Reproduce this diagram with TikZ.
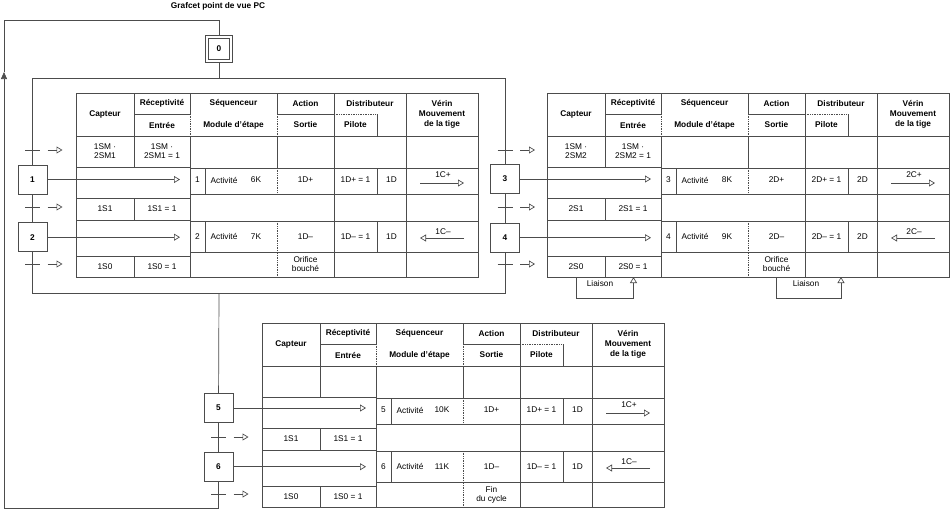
\documentclass[tikz,border=0pt]{standalone}
\usepackage{fontspec}
\setmainfont{Liberation Sans}
\usetikzlibrary{arrows.meta,positioning}

% grid of one table, local coordinates (origin = top left corner)
\newcommand{\tabgrid}{%
  \draw[grid] (0,0) rectangle (402,184);
  \draw[grid] (0,43) -- (402,43);
  \draw[grid] (58,0) -- (58,43) (58,21) -- (114,21);
  \draw[grid] (114,0) -- (114,21) (114,43) -- (114,184);
  \draw[dot] (114,21) -- (114,43);
  \draw[grid] (201,0) -- (201,21) -- (258,21) (201,43) -- (201,75);
  \draw[dot] (201,21) -- (201,43) (201,75) -- (201,101) (201,128) -- (201,184);
  \draw[dot] (258,21) -- (301,21);
  \draw[grid] (301,21) -- (301,43);
  \draw[grid] (258,0) -- (258,184) (330,0) -- (330,184);
  \foreach \y in {74,105,127,163} \draw[grid] (0,\y) -- (114,\y);
  \foreach \a/\b in {43/74,105/127,163/184} \draw[grid] (58,\a) -- (58,\b);
  \foreach \y in {75,101,128,159} \draw[grid] (114,\y) -- (402,\y);
  \foreach \a/\b in {75/101,128/159} \draw[grid] (129,\a) -- (129,\b) (301,\a) -- (301,\b);
}
\newcommand{\tabhead}{%
  \node[hd] (capteur) at (29,21.5) {Capteur};
  \node[hd] (recept) at (86,10.5) {Réceptivité};
  \node[hd] (entree) at (86,32) {Entrée};
  \node[hd] (seq) at (157.5,10.5) {Séquenceur};
  \node[hd] (module) at (157.5,32) {Module d’étape};
  \node[hd] (action) at (229.5,10.5) {Action};
  \node[hd] (sortie) at (229.5,32) {Sortie};
  \node[hd] (distrib) at (294,10.5) {Distributeur};
  \node[hd] (pilote) at (279.5,32) {Pilote};
  \node[hd] (verin) at (366,21.5) {Vérin\\Mouvement\\de la tige};
}
% #1 y, #2 step, #3 K, #4 sortie, #5 pilote, #6 distributeur
\newcommand{\steprow}[6]{%
  \node[txt] (num#2) at (121.5,#1) {#2};
  \node[txt] (act#2) at (148,#1) {Activité};
  \node[txt] (k#2) at (180,#1) {#3};
  \node[txt] (sort#2) at (229.5,#1) {#4};
  \node[txt] (pil#2) at (279.5,#1) {#5};
  \node[txt] (dist#2) at (315.5,#1) {#6};
}
% #1 name, #2 y, #3 capteur, #4 receptivite
\newcommand{\transcell}[4]{%
  \node[txt] (cap#1) at (29,#2) {#3};
  \node[txt] (rec#1) at (86,#2) {#4};
}
% #1 name, #2 y label, #3 y line, #4 label, #5 direction
\newcommand{\verin}[5]{%
  \node[txt] (#1) at (367,#2) {#4};
  \coordinate (#1-a) at ({366-22*#5},#3);
  \coordinate (#1-b) at ({366+22*#5},#3);
  \draw[oarr] (#1-a) -- (#1-b);
}

\begin{document}
\begin{tikzpicture}[x=1pt, y=-1pt,
  grid/.style={draw=black!70, line width=0.7pt},
  dot/.style={draw=black!70, line width=0.7pt, densely dotted},
  txt/.style={font=\fontsize{8.3}{9}\selectfont, align=center, inner sep=1pt},
  hd/.style={txt, font=\fontsize{8.3}{10}\selectfont\bfseries},
  stepbox/.style={draw=black!70, line width=0.7pt, minimum size=29pt, inner sep=0pt, font=\fontsize{8.3}{9}\selectfont\bfseries, fill=white},
  initstep/.style={stepbox, minimum size=24.5pt, double, double distance=2.4pt, outer sep=1.9pt},
  link/.style={draw=black!70, line width=0.7pt},
  oarr/.style={link, -{Triangle[open, length=6pt, width=7pt]}},
  uparr/.style={link, -{Triangle[length=7pt, width=6pt]}}]
\useasboundingbox (0,0) rectangle (950,509);

\node[hd] (title) at (218,6) {Grafcet point de vue PC};

% grafcet
\node[initstep] (s0) at (219,49) {0};
\node[stepbox] (s1) at (32.5,179.5) {1};
\node[stepbox, below=28pt of s1] (s2) {2};
\node[stepbox] (s3) at (505,179) {3};
\node[stepbox, below=29pt of s3] (s4) {4};
\node[stepbox] (s5) at (218.5,408) {5};
\node[stepbox, below=29pt of s5] (s6) {6};

\coordinate (jt) at (219,78);
\coordinate (jb) at (219,293);
\coordinate (rb) at (4,508);
\coordinate (ra) at (4,72);
\coordinate (rt) at (4,20);

\draw[link] (s0) -- (jt);
\draw[link] (s1) |- (jt);
\draw[link] (s3) |- (jt);
\draw[link] (s1) -- (s2);
\draw[link] (s3) -- (s4);
\draw[link] (s2) |- (jb);
\draw[link] (s4) |- (jb);
\draw[link] (jb) -- (s5);
\draw[link] (s5) -- (s6);
\draw[link] (s6) |- (rb);
\draw[uparr] (rb) -- (ra);
\draw[link] (ra) -- (rt) -| (s0);

% transitions
\coordinate (t1) at (32.5,150);
\coordinate (t2) at (32.5,207);
\coordinate (t3) at (32.5,264);
\coordinate (t4) at (505,150);
\coordinate (t5) at (505,207);
\coordinate (t6) at (505,264);
\coordinate (t7) at (218.5,437);
\coordinate (t8) at (218.5,494);
\foreach \t in {t1,t2,t3,t4,t5,t6,t7,t8} {
  \draw[link] ([xshift=-7.5pt]\t) -- ([xshift=7.5pt]\t);
  \draw[oarr] ([xshift=15pt]\t) -- ([xshift=30pt]\t);
}

% table of steps 1 and 2
\begin{scope}[shift={(76,93)}, name prefix=ta-]
  \tabgrid
  \tabhead
  \transcell{A}{58.5}{1SM ·\\2SM1}{1SM ·\\2SM1 = 1}
  \transcell{B}{116}{1S1}{1S1 = 1}
  \transcell{C}{173.5}{1S0}{1S0 = 1}
  \steprow{87}{1}{6K}{1D+}{1D+ = 1}{1D}
  \steprow{143.5}{2}{7K}{1D–}{1D– = 1}{1D}
  \verin{cyl1}{82}{90}{1C+}{1}
  \verin{cyl2}{139}{145}{1C–}{-1}
  \node[txt] (orifice) at (229.5,171.5) {Orifice\\bouché};
  \coordinate (end) at (104,0);
\end{scope}

% table of steps 3 and 4
\begin{scope}[shift={(547,93)}, name prefix=tb-]
  \tabgrid
  \tabhead
  \transcell{A}{58.5}{1SM ·\\2SM2}{1SM ·\\2SM2 = 1}
  \transcell{B}{116}{2S1}{2S1 = 1}
  \transcell{C}{173.5}{2S0}{2S0 = 1}
  \steprow{87}{3}{8K}{2D+}{2D+ = 1}{2D}
  \steprow{143.5}{4}{9K}{2D–}{2D– = 1}{2D}
  \verin{cyl1}{82}{90}{2C+}{1}
  \verin{cyl2}{139}{145}{2C–}{-1}
  \node[txt] (orifice) at (229.5,171.5) {Orifice\\bouché};
  \coordinate (end) at (104,0);
  % liaisons
  \coordinate (la1) at (29,184);
  \coordinate (lb1) at (86.5,184);
  \draw[oarr] (la1) -- ++(0,21) -| (lb1);
  \node[txt] (liaison1) at (53,191) {Liaison};
  \coordinate (la2) at (229.5,184);
  \coordinate (lb2) at (294,184);
  \draw[oarr] (la2) -- ++(0,21) -| (lb2);
  \node[txt] (liaison2) at (259,191) {Liaison};
\end{scope}

% table of steps 5 and 6
\begin{scope}[shift={(262,323)}, name prefix=tc-]
  \tabgrid
  \tabhead
  \transcell{B}{116}{1S1}{1S1 = 1}
  \transcell{C}{173.5}{1S0}{1S0 = 1}
  \steprow{87}{5}{10K}{1D+}{1D+ = 1}{1D}
  \steprow{143.5}{6}{11K}{1D–}{1D– = 1}{1D}
  \verin{cyl1}{82}{90}{1C+}{1}
  \verin{cyl2}{139}{145}{1C–}{-1}
  \node[txt] (fin) at (229.5,171.5) {Fin\\du cycle};
  \coordinate (end) at (104,0);
\end{scope}

% actions
\draw[oarr] (s1) -- (s1 -| ta-end);
\draw[oarr] (s2) -- (s2 -| ta-end);
\draw[oarr] (s3) -- (s3 -| tb-end);
\draw[oarr] (s4) -- (s4 -| tb-end);
\draw[oarr] (s5) -- (s5 -| tc-end);
\draw[oarr] (s6) -- (s6 -| tc-end);
\end{tikzpicture}
\end{document}
